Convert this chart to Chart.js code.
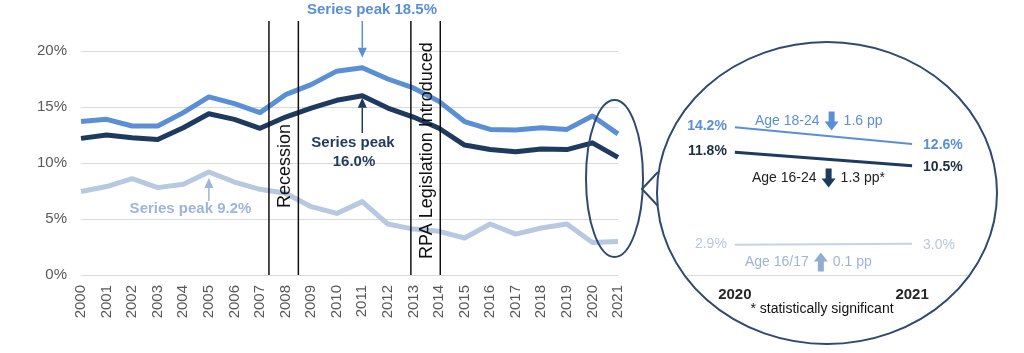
<!DOCTYPE html>
<html>
<head>
<meta charset="utf-8">
<script src="https://cdn.jsdelivr.net/npm/chart.js@4.4.1/dist/chart.umd.min.js"></script>
<style>
  body { margin: 0; background: #fff; }
  #wrap { position: relative; width: 1024px; height: 353px; }
  #wrap canvas { position: absolute; top: 0; }
</style>
</head>
<body>
<div id="wrap">
  <canvas id="main" width="1024" height="353" style="left:0"></canvas>
  <canvas id="inset" width="404" height="353" style="left:620px"></canvas>
</div>
<script>
const years = ['2000', '2001', '2002', '2003', '2004', '2005', '2006', '2007', '2008', '2009', '2010',
               '2011', '2012', '2013', '2014', '2015', '2016', '2017', '2018', '2019', '2020', '2021'];
const age1824 = [13.7, 13.9, 13.3, 13.3, 14.5, 15.9, 15.3, 14.5, 16.1, 17.0, 18.2,
                 18.5, 17.5, 16.7, 15.5, 13.7, 13.0, 12.95, 13.15, 13.0, 14.2, 12.6];
const age1624 = [12.2, 12.5, 12.25, 12.1, 13.15, 14.4, 13.9, 13.1, 14.1, 14.9, 15.6,
                 16.0, 14.9, 14.1, 13.1, 11.6, 11.2, 11.0, 11.25, 11.2, 11.8, 10.5];
const age1617 = [7.45, 7.9, 8.6, 7.8, 8.1, 9.2, 8.3, 7.65, 7.3, 6.1, 5.5,
                 6.55, 4.55, 4.1, 3.9, 3.3, 4.55, 3.65, 4.2, 4.55, 2.9, 3.0];
const yTicks = [0, 5, 10, 15, 20];
const recessionYears = [2007.35, 2008.5];
const rpaYears = [2012.9, 2014.05];
const insetYears = [2020, 2021];

const FONT = '"Liberation Sans", Arial, Helvetica, sans-serif';
const C_MID = '#5b8fd5';
const C_DARK = '#1f3a5f';
const C_LIGHT = '#b8c8e1';
const C_LIGHT_TXT = '#9fb4d9';
const C_RING = '#2e4a72';

function lineArrow(ctx, x, yFrom, yTip, color) {
    const dir = Math.sign(yTip - yFrom), head = 10;
    ctx.save();
    ctx.strokeStyle = color;
    ctx.fillStyle = color;
    ctx.lineWidth = 1.5;
    ctx.beginPath();
    ctx.moveTo(x, yFrom);
    ctx.lineTo(x, yTip - dir * head);
    ctx.stroke();
    ctx.beginPath();
    ctx.moveTo(x, yTip);
    ctx.lineTo(x - 4.5, yTip - dir * head);
    ctx.lineTo(x + 4.5, yTip - dir * head);
    ctx.closePath();
    ctx.fill();
    ctx.restore();
}

function blockArrow(ctx, cx, cy, up, color) {
    const h = 19, hh = 9, hw = 7, sw = 3;
    const d = up ? -1 : 1;
    const tip = cy + d * h / 2, base = cy - d * h / 2, neck = tip - d * hh;
    ctx.save();
    ctx.fillStyle = color;
    ctx.beginPath();
    ctx.moveTo(cx - sw, base);
    ctx.lineTo(cx + sw, base);
    ctx.lineTo(cx + sw, neck);
    ctx.lineTo(cx + hw, neck);
    ctx.lineTo(cx, tip);
    ctx.lineTo(cx - hw, neck);
    ctx.lineTo(cx - sw, neck);
    ctx.closePath();
    ctx.fill();
    ctx.restore();
}

function peakIndex(arr) {
    return arr.indexOf(Math.max(...arr));
}

const mainOverlay = {
    id: 'mainOverlay',
    afterDatasetsDraw(chart) {
        const {ctx, chartArea, scales: {x, y}} = chart;
        const base = Number(years[0]);

        // event lines
        ctx.save();
        ctx.strokeStyle = '#111';
        ctx.lineWidth = 1.5;
        [...recessionYears, ...rpaYears].forEach(yr => {
            const px = x.getPixelForValue(yr - base);
            ctx.beginPath();
            ctx.moveTo(px, 21);
            ctx.lineTo(px, chartArea.bottom);
            ctx.stroke();
        });

        ctx.fillStyle = '#111';
        ctx.font = '18px ' + FONT;
        ctx.textAlign = 'left';
        ctx.textBaseline = 'middle';
        const recX = (x.getPixelForValue(recessionYears[0] - base) + x.getPixelForValue(recessionYears[1] - base)) / 2;
        ctx.save();
        ctx.translate(recX, 208);
        ctx.rotate(-Math.PI / 2);
        ctx.fillText('Recession', 0, 1);
        ctx.restore();
        const rpaX = (x.getPixelForValue(rpaYears[0] - base) + x.getPixelForValue(rpaYears[1] - base)) / 2;
        ctx.save();
        ctx.translate(rpaX, 259);
        ctx.rotate(-Math.PI / 2);
        ctx.fillText('RPA Legislation Introduced', 0, 1);
        ctx.restore();

        // peak callouts
        ctx.font = 'bold 15px ' + FONT;
        ctx.textAlign = 'center';
        let i = peakIndex(age1824);
        let px = x.getPixelForValue(i), py = y.getPixelForValue(age1824[i]);
        lineArrow(ctx, px, 21, py - 10, C_MID);
        ctx.fillStyle = C_MID;
        ctx.fillText('Series peak ' + age1824[i].toFixed(1) + '%', 372, 10);

        i = peakIndex(age1624);
        px = x.getPixelForValue(i); py = y.getPixelForValue(age1624[i]);
        lineArrow(ctx, px, 133, py + 2, C_DARK);
        ctx.fillStyle = C_DARK;
        ctx.fillText('Series peak', 353, 143);
        ctx.fillText(age1624[i].toFixed(1) + '%', 354, 162);

        i = peakIndex(age1617);
        px = x.getPixelForValue(i); py = y.getPixelForValue(age1617[i]);
        lineArrow(ctx, px, 201, py + 6, C_LIGHT_TXT);
        ctx.fillStyle = C_LIGHT_TXT;
        ctx.fillText('Series peak ' + age1617[i].toFixed(1) + '%', 190.5, 209);

        // zoom ring
        ctx.strokeStyle = C_RING;
        ctx.lineWidth = 2;
        ctx.beginPath();
        ctx.ellipse(614.5, 178.5, 28.5, 78.5, 0, 0, Math.PI * 2);
        ctx.stroke();
        ctx.beginPath();
        ctx.ellipse(827, 193, 170, 151, 0, 0, Math.PI * 2);
        ctx.stroke();
        ctx.beginPath();
        ctx.moveTo(658, 172);
        ctx.lineTo(642, 189);
        ctx.lineTo(658, 206);
        ctx.stroke();
        ctx.restore();
    }
};

const tickFont = {family: FONT, size: 15};

new Chart(document.getElementById('main'), {
    type: 'line',
    data: {
        labels: years,
        datasets: [
            {data: age1617, borderColor: C_LIGHT},
            {data: age1624, borderColor: C_DARK},
            {data: age1824, borderColor: C_MID}
        ]
    },
    options: {
        responsive: false,
        animation: false,
        layout: {padding: {top: 51, right: 406, left: 0, bottom: 0}},
        elements: {
            line: {borderWidth: 5, tension: 0, borderJoinStyle: 'round', borderCapStyle: 'butt'},
            point: {radius: 0}
        },
        plugins: {legend: {display: false}, tooltip: {enabled: false}},
        scales: {
            x: {
                type: 'category',
                offset: false,
                grid: {display: false},
                border: {display: false},
                ticks: {
                    minRotation: 90, maxRotation: 90, autoSkip: false,
                    font: tickFont, color: '#595959', padding: 2
                },
                afterFit: s => { s.height = 78; }
            },
            y: {
                min: 0, max: 20,
                afterBuildTicks: s => { s.ticks = yTicks.map(v => ({value: v})); },
                grid: {color: '#d9d9d9', drawTicks: false},
                border: {display: false},
                ticks: {padding: 14, font: tickFont, color: '#595959', callback: v => v + '%'},
                afterFit: s => { s.width = 81; }
            }
        }
    },
    plugins: [mainOverlay]
});

// inset: 2020 vs 2021
const insetSeries = [
    {values: age1824, color: C_MID, width: 2, labelColor: C_MID, bold: true,
     name: 'Age 18-24', nameColor: C_MID, arrowColor: C_MID, nx: 755, ny: 121, star: ''},
    {values: age1624, color: C_DARK, width: 3, labelColor: '#1f2d40', bold: true,
     name: 'Age 16-24', nameColor: '#222', arrowColor: C_DARK, nx: 752, ny: 178, star: '*'},
    {values: age1617, color: '#c5d3e8', width: 2, labelColor: '#b9c7df', bold: false,
     name: 'Age 16/17', nameColor: C_LIGHT_TXT, arrowColor: '#93acd6', nx: 745, ny: 262, star: ''}
];

const insetOverlay = {
    id: 'insetOverlay',
    afterDatasetsDraw(chart) {
        const {ctx, scales: {x, y}} = chart;
        const off = 620;
        ctx.save();
        ctx.textBaseline = 'middle';
        insetSeries.forEach(s => {
            const v0 = s.values[s.values.length - 2], v1 = s.values[s.values.length - 1];
            const x0 = x.getPixelForValue(insetYears[0]), x1 = x.getPixelForValue(insetYears[1]);
            ctx.font = (s.bold ? 'bold ' : '') + '14px ' + FONT;
            ctx.fillStyle = s.labelColor;
            ctx.textAlign = 'right';
            ctx.fillText(v0.toFixed(1) + '%', x0 - 8, y.getPixelForValue(v0) - 1);
            ctx.textAlign = 'left';
            ctx.fillText(v1.toFixed(1) + '%', x1 + 11, y.getPixelForValue(v1) + 1);

            ctx.font = '14px ' + FONT;
            ctx.fillStyle = s.nameColor;
            let tx = s.nx - off;
            ctx.fillText(s.name, tx, s.ny);
            tx += ctx.measureText(s.name).width + 12;
            blockArrow(ctx, tx, s.ny, v1 > v0, s.arrowColor);
            tx += 12;
            ctx.fillText(Math.abs(v1 - v0).toFixed(1) + ' pp' + s.star, tx, s.ny);
        });
        ctx.font = '14px ' + FONT;
        ctx.fillStyle = '#111';
        ctx.textAlign = 'center';
        ctx.fillText('* statistically significant', 822 - off, 309);
        ctx.restore();
    }
};

new Chart(document.getElementById('inset'), {
    type: 'line',
    data: {
        datasets: insetSeries.map(s => ({
            data: insetYears.map((yr, k) => ({x: yr, y: s.values[s.values.length - 2 + k]})),
            borderColor: s.color,
            borderWidth: s.width
        }))
    },
    options: {
        responsive: false,
        animation: false,
        layout: {padding: {top: 119, right: 57, left: 67, bottom: 0}},
        elements: {line: {tension: 0}, point: {radius: 0}},
        plugins: {legend: {display: false}, tooltip: {enabled: false}},
        scales: {
            x: {
                type: 'linear',
                min: 2019.73, max: 2021.31,
                afterBuildTicks: s => { s.ticks = insetYears.map(v => ({value: v})); },
                grid: {display: false},
                border: {display: true, color: '#d9d9d9', width: 1},
                ticks: {font: {family: FONT, size: 15, weight: 'bold'}, color: '#262626',
                        padding: 3, callback: v => String(v)},
                afterFit: s => { s.height = 78; }
            },
            y: {min: 0, max: 15, display: false}
        }
    },
    plugins: [insetOverlay]
});
</script>
</body>
</html>
